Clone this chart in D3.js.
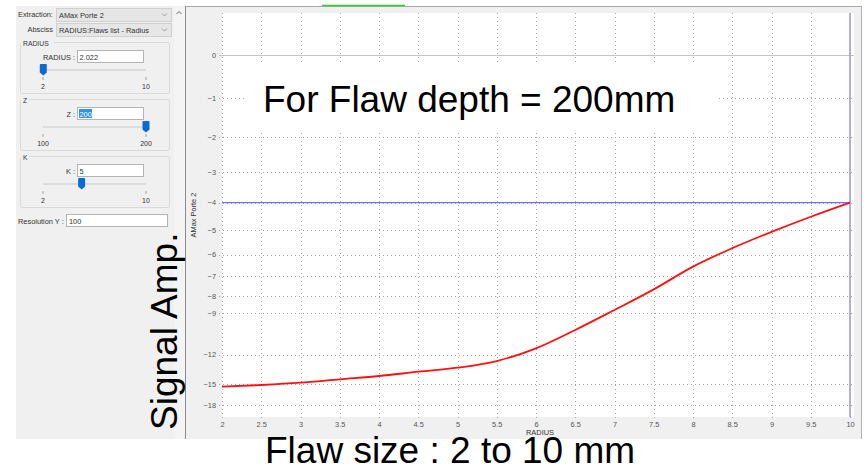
<!DOCTYPE html>
<html>
<head>
<meta charset="utf-8">
<script src="https://cdn.jsdelivr.net/npm/d3@7/dist/d3.min.js"></script>
<style>
  html, body { margin: 0; padding: 0; background: #ffffff; }
  svg { display: block; }
  .ui { font-family: "Liberation Sans", Arial, sans-serif; font-size: 7.4px; fill: #333; }
  .tick text { font-family: "Liberation Sans", Arial, sans-serif; font-size: 7.4px; fill: #555; }
  .big { font-family: "Liberation Sans", Arial, sans-serif; font-size: 37px; fill: #000; }
</style>
</head>
<body>
<svg id="chart" width="867" height="466"></svg>
<script>
// Flaw radius (mm) and the simulated peak amplitude (dB) for a flaw at depth 200 mm
const radius = [2, 2.5, 3, 3.5, 4, 4.5, 5, 5.5, 6, 6.5, 7, 7.5, 8, 8.5, 9, 9.5, 10];
const amplitudeDb = [-15.35, -15.14, -14.86, -14.46, -14.09, -13.63, -13.22, -12.58, -11.48,
                     -10.10, -8.81, -7.66, -6.54, -5.73, -5.07, -4.50, -4.00];

// Axis ticks
const xTicks = [2, 2.5, 3, 3.5, 4, 4.5, 5, 5.5, 6, 6.5, 7, 7.5, 8, 8.5, 9, 9.5, 10];
const yTicksDb = [0, -1, -2, -3, -4, -5, -6, -7, -8, -9, -12, -15, -18];

// Cursor lines
const thresholdDb = [-4];
const cursorRadius = [10];

// Settings panel content
const sliders = [
  { title: "RADIUS", label: "RADIUS :", value: "2.022", min: 2, max: 10, at: 2.022, selected: false },
  { title: "Z", label: "Z :", value: "200", min: 100, max: 200, at: 200, selected: true },
  { title: "K", label: "K :", value: "5", min: 2, max: 10, at: 5, selected: false }
];

const svg = d3.select("#chart");

// ---------- window background ----------
svg.append("rect").attr("x", 16).attr("y", 6).attr("width", 846).attr("height", 433).attr("fill", "#f0f0f0");
// scrollbar strip and separator
svg.append("rect").attr("x", 174).attr("y", 6).attr("width", 11).attr("height", 433).attr("fill", "#f4f4f4");
svg.append("line").attr("x1", 185.5).attr("x2", 185.5).attr("y1", 6).attr("y2", 439).attr("stroke", "#8a8a8a");
svg.append("polyline").attr("points", "176.5,14 179,11.5 181.5,14").attr("fill", "none").attr("stroke", "#606060");
// chart frame
svg.append("line").attr("x1", 186).attr("x2", 862).attr("y1", 6.5).attr("y2", 6.5).attr("stroke", "#a8a8a8");
svg.append("line").attr("x1", 861.5).attr("x2", 861.5).attr("y1", 6).attr("y2", 439).attr("stroke", "#b0b0b0");
svg.append("line").attr("x1", 322).attr("x2", 405).attr("y1", 5.5).attr("y2", 5.5).attr("stroke", "#2fd02f").attr("stroke-width", 1.5);

// ---------- settings panel ----------
const ui = svg.append("g").attr("class", "ui");

function dropdown(y, label, text, labelX, anchor) {
  ui.append("text").attr("x", labelX).attr("y", y + 9).attr("text-anchor", anchor).text(label);
  ui.append("rect").attr("x", 56.5).attr("y", y + 0.5).attr("width", 115).attr("height", 13)
    .attr("fill", "#e6e6e6").attr("stroke", "#d0d0d0");
  ui.append("text").attr("x", 59).attr("y", y + 9.5).text(text);
  ui.append("polyline").attr("points", `${162},${y + 5.5} ${164.5},${y + 8} ${167},${y + 5.5}`)
    .attr("fill", "none").attr("stroke", "#8a8a8a").attr("stroke-width", 0.8);
}
dropdown(8, "Extraction:", "AMax Porte 2", 18, "start");
dropdown(23, "Absciss", "RADIUS:Flaws list - Radius", 53, "end");

const groupTop = [40, 97, 154];
sliders.forEach((s, i) => {
  const g = ui.append("g").attr("transform", `translate(0,${groupTop[i]})`);
  g.append("rect").attr("x", 20.5).attr("y", 2.5).attr("width", 149).attr("height", 51).attr("rx", 2)
    .attr("fill", "none").attr("stroke", "#dadada");
  g.append("rect").attr("x", 21).attr("y", 0).attr("width", s.title.length * 5 + 3).attr("height", 6).attr("fill", "#f0f0f0");
  g.append("text").attr("x", 23).attr("y", 6).attr("font-size", 6.8).text(s.title);
  g.append("text").attr("x", 75).attr("y", 19.5).attr("text-anchor", "end").text(s.label);
  g.append("rect").attr("x", 77.5).attr("y", 10.5).attr("width", 66).attr("height", 12)
    .attr("fill", "#ffffff").attr("stroke", "#b4b4b4");
  if (s.selected) {
    g.append("rect").attr("x", 79).attr("y", 12).attr("width", 13).attr("height", 9).attr("fill", "#3392f0");
    g.append("text").attr("x", 79.5).attr("y", 19.5).attr("fill", "#ffffff").text(s.value);
  } else {
    g.append("text").attr("x", 79.5).attr("y", 19.5).text(s.value);
  }
  const sx = d3.scaleLinear().domain([s.min, s.max]).range([43, 146]);
  g.append("line").attr("x1", 43).attr("x2", 146).attr("y1", 30).attr("y2", 30)
    .attr("stroke", "#dcdcdc").attr("stroke-width", 2);
  [s.min, s.max].forEach(v => {
    g.append("line").attr("x1", sx(v)).attr("x2", sx(v)).attr("y1", 37).attr("y2", 40).attr("stroke", "#a0a0a0");
    g.append("text").attr("x", sx(v)).attr("y", 49).attr("text-anchor", "middle").attr("font-size", 7).text(v);
  });
  const hx = sx(s.at);
  g.append("path")
    .attr("d", `M${hx - 3.5},${25} q0,-1 1,-1 h5 q1,0 1,1 v7.5 l-3.5,3 l-3.5,-3 z`)
    .attr("fill", "#0a6ad6");
});

ui.append("text").attr("x", 18).attr("y", 223.5).text("Resolution Y :");
ui.append("rect").attr("x", 66.5).attr("y", 214.5).attr("width", 101).attr("height", 12)
  .attr("fill", "#ffffff").attr("stroke", "#b4b4b4");
ui.append("text").attr("x", 69).attr("y", 223.5).text("100");

// ---------- plot ----------
const plot = { left: 222, right: 850, top: 13, bottom: 417 };
const x = d3.scaleLinear().domain([2, 10]).range([plot.left, plot.right]);
// vertical scale is linear in amplitude, labelled in dB
const toAmp = db => Math.pow(10, db / 20);
const yAmp = d3.scaleLinear().domain([0.095, 1.105]).range([plot.bottom, plot.top]);
const y = db => yAmp(toAmp(db));

svg.append("rect").attr("x", plot.left).attr("y", plot.top)
  .attr("width", plot.right - plot.left + 4).attr("height", plot.bottom - plot.top).attr("fill", "#ffffff");

// grid
const grid = svg.append("g");
grid.selectAll("line.v").data(xTicks).join("line")
  .attr("x1", d => Math.round(x(d)) + 0.5).attr("x2", d => Math.round(x(d)) + 0.5)
  .attr("y1", plot.top).attr("y2", plot.bottom + 3)
  .attr("stroke", "#a8a8a8").attr("stroke-dasharray", "1,3");
grid.selectAll("line.h").data(yTicksDb).join("line")
  .attr("x1", plot.left - 3).attr("x2", plot.right + 4)
  .attr("y1", d => Math.round(y(d)) + 0.5).attr("y2", d => Math.round(y(d)) + 0.5)
  .attr("stroke", d => d === 0 ? "#c4c4c4" : "#a8a8a8")
  .attr("stroke-dasharray", d => d === 0 ? null : "1,3");

// axes
const xAxis = d3.axisBottom(x).tickValues(xTicks).tickSize(0).tickPadding(4.5)
  .tickFormat(d => d3.format("~g")(d));
svg.append("g").attr("transform", `translate(0,${plot.bottom})`).call(xAxis)
  .call(g => g.select(".domain").remove());
const yAxis = d3.axisLeft(yAmp).tickValues(yTicksDb.map(toAmp)).tickSize(0).tickPadding(6)
  .tickFormat(a => d3.format("d")(Math.round(20 * Math.log10(a))));
svg.append("g").attr("transform", `translate(${plot.left},0)`).call(yAxis)
  .call(g => g.select(".domain").remove());

svg.append("text").attr("class", "ui").attr("x", 540).attr("y", 435).attr("text-anchor", "middle")
  .attr("font-size", 6.8).attr("fill", "#444").text("RADIUS");
svg.append("text").attr("class", "ui").attr("transform", `translate(195.5,${(plot.top + plot.bottom) / 2}) rotate(-90)`)
  .attr("text-anchor", "middle").attr("font-size", 7.2).attr("fill", "#444").text("AMax Porte 2");

// cursors
svg.selectAll("line.thr").data(thresholdDb).join("line")
  .attr("x1", plot.left).attr("x2", d => x(cursorRadius[0]))
  .attr("y1", d => y(d)).attr("y2", d => y(d))
  .attr("stroke", "#6f6ff5").attr("stroke-width", 1.3);
svg.selectAll("line.cur").data(cursorRadius).join("line")
  .attr("x1", d => x(d)).attr("x2", d => x(d))
  .attr("y1", plot.top).attr("y2", plot.bottom)
  .attr("stroke", "#9a9af8").attr("stroke-width", 1.6);

// amplitude curve
const line = d3.line().x((d, i) => x(radius[i])).y(d => y(d)).curve(d3.curveMonotoneX);
svg.append("path").datum(amplitudeDb).attr("d", line)
  .attr("fill", "none").attr("stroke", "#ff1010").attr("stroke-width", 1.8);

// ---------- annotations ----------
svg.append("rect").attr("x", 245).attr("y", 63).attr("width", 471).attr("height", 67).attr("fill", "#ffffff");
svg.append("text").attr("class", "big").attr("x", 263).attr("y", 112).text("For Flaw depth = 200mm");
svg.append("text").attr("class", "big").attr("x", 265).attr("y", 462.5).text("Flaw size : 2 to 10 mm");
svg.append("text").attr("class", "big").attr("transform", "translate(177,430) rotate(-90)").text("Signal Amp.");
</script>
</body>
</html>
